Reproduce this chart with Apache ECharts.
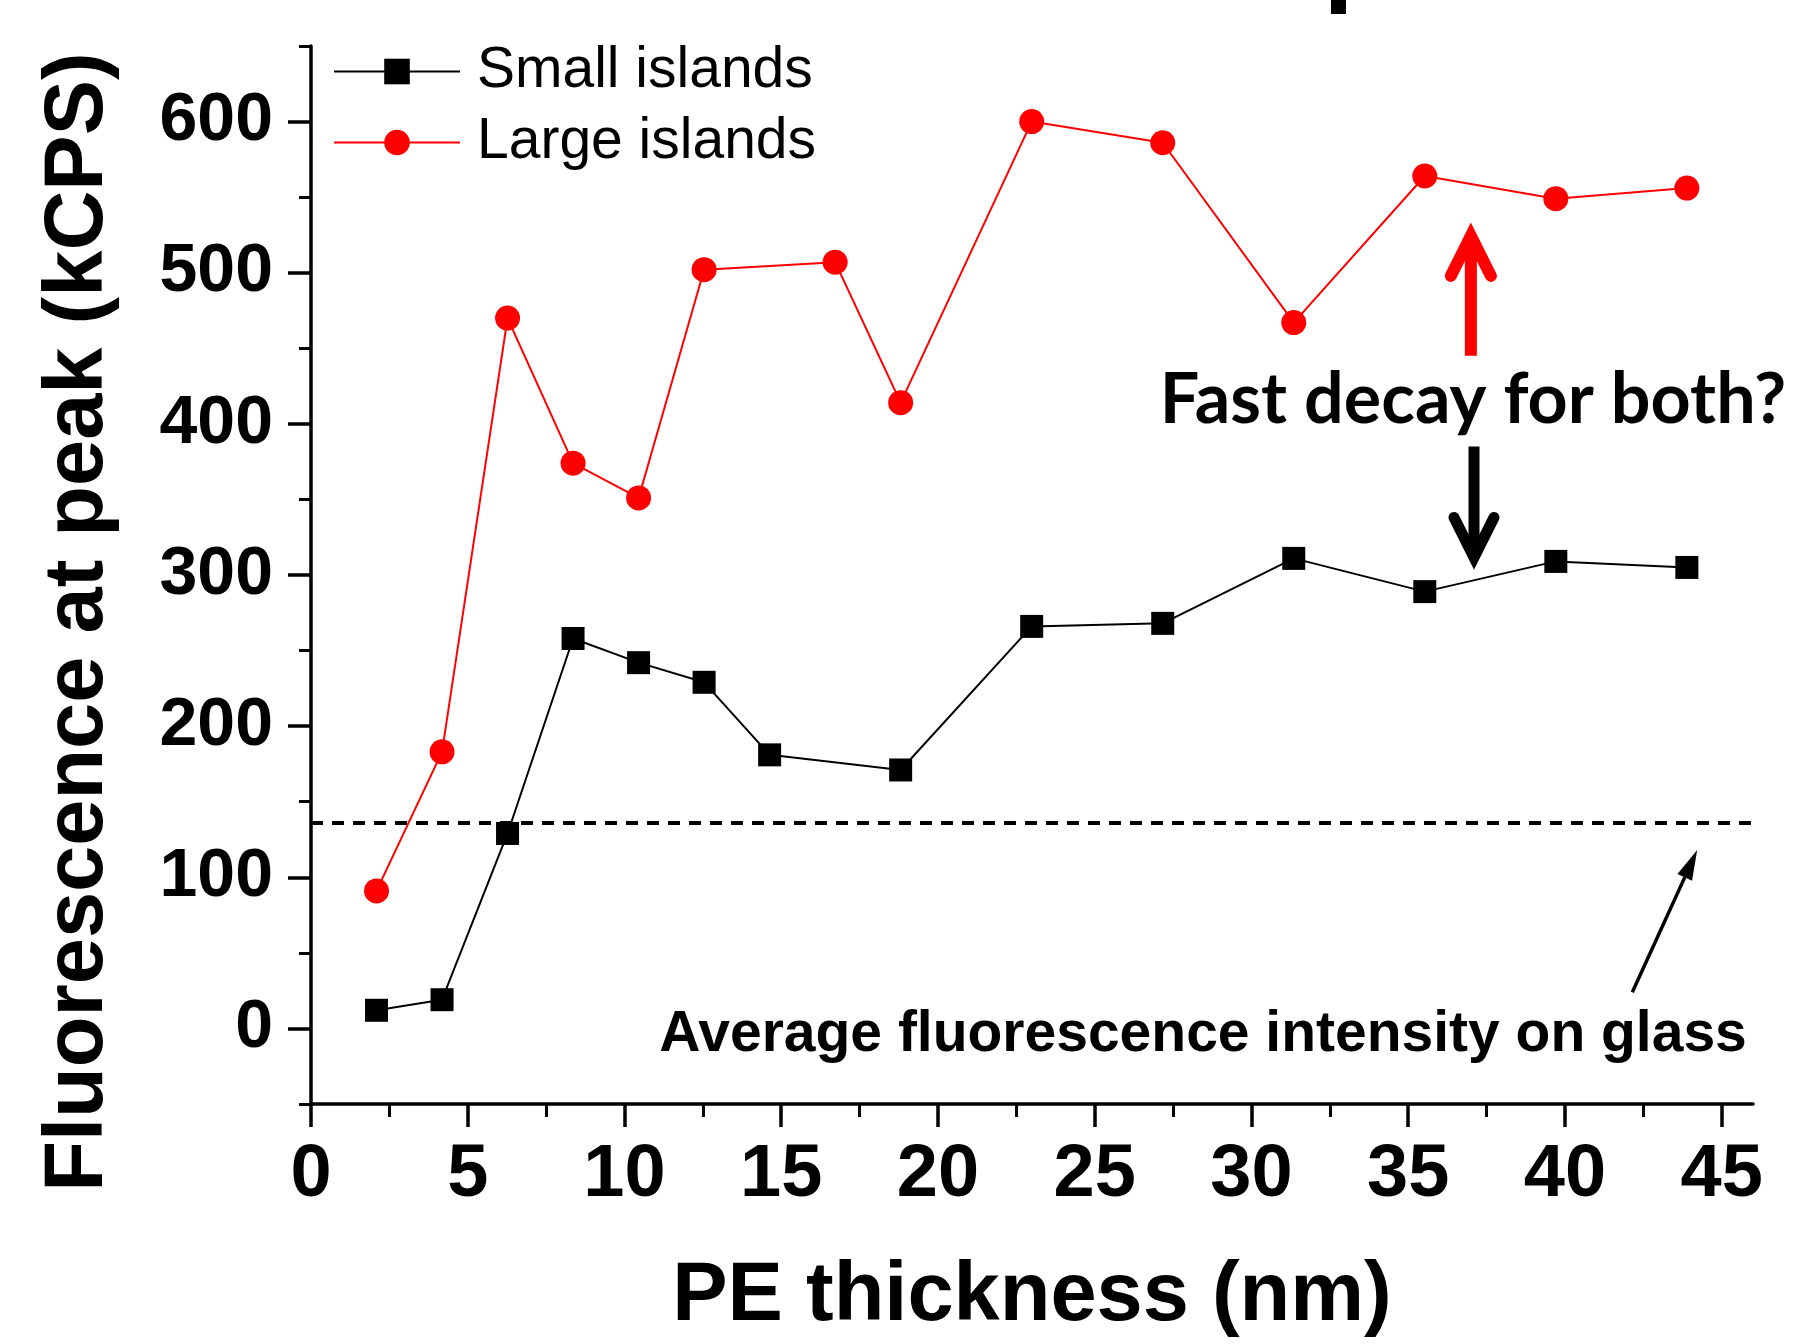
<!DOCTYPE html>
<html><head><meta charset="utf-8">
<script src="https://cdn.jsdelivr.net/npm/echarts@6/dist/echarts.min.js"></script>
<style>html,body{margin:0;padding:0;background:#fff}#c{width:1797px;height:1344px}</style>
</head><body><div id="c"></div>
<script>
// ---- data ----
const xSmall = [2.09, 4.18, 6.27, 8.36, 10.45, 12.54, 14.63, 18.81, 22.99, 27.17, 31.35, 35.53, 39.71, 43.89];
const ySmall = [12, 19, 129, 258, 242, 229, 181, 171, 266, 268, 311, 289, 309, 305];
const xLarge = [2.09, 4.18, 6.27, 8.36, 10.45, 12.54, 16.72, 18.81, 22.99, 27.17, 31.35, 35.53, 39.71, 43.89];
const yLarge = [91, 183, 470, 374, 351, 502, 507, 414, 600, 586, 467, 564, 549, 556];
const glassAverage = 136;
const xMajorTicks = [0, 5, 10, 15, 20, 25, 30, 35, 40, 45];
const xMinorTicks = [2.5, 7.5, 12.5, 17.5, 22.5, 27.5, 32.5, 37.5, 42.5];
const yMajorTicks = [0, 100, 200, 300, 400, 500, 600];
const yMinorTicks = [-50, 50, 150, 250, 350, 450, 550, 650];
const seriesNames = ['Small islands', 'Large islands'];
const xTitle = 'PE thickness (nm)';
const yTitle = 'Fluorescence at peak (kCPS)';
const noteDecay = 'Fast decay for both?';
const noteGlass = 'Average fluorescence intensity on glass';
// annotation anchors in data units
const redArrow = {x: 37.0, tip: 529, tail: 445};
const blackArrow = {x: 37.1, tip: 307, tail: 385};
const glassArrow = {x0: 42.15, y0: 24, x1: 44.22, y1: 118};

const chart = echarts.init(document.getElementById('c'), null, {renderer: 'canvas'});
const F = 'Liberation Sans, Arial, sans-serif';
const axisCommon = {type: 'value', splitLine: {show: false}};

chart.setOption({
  animation: false,
  backgroundColor: '#ffffff',
  grid: {left: 311, right: 44, top: 46, bottom: 240, containLabel: false},
  legend: {
    data: seriesNames, orient: 'vertical', left: 328, top: 38,
    itemWidth: 126, itemHeight: 32, itemGap: 14,
    textStyle: {fontSize: 57, lineHeight: 57, fontFamily: F, color: '#000', padding: [0, 0, 0, 12]}
  },
  xAxis: [
    Object.assign({}, axisCommon, {
      min: 0, max: 46, position: 'bottom',
      name: xTitle, nameLocation: 'middle', nameGap: 152,
      nameTextStyle: {fontSize: 83, fontWeight: 'bold', fontFamily: F, color: '#000'},
      axisLine: {show: true, onZero: false, lineStyle: {color: '#000', width: 3.5}},
      axisTick: {show: true, customValues: xMajorTicks, length: 23, lineStyle: {color: '#000', width: 3.5}},
      axisLabel: {show: true, customValues: xMajorTicks, margin: 35, fontSize: 74, fontWeight: 'bold', fontFamily: F, color: '#000'}
    }),
    Object.assign({}, axisCommon, {
      min: 0, max: 46, position: 'bottom',
      axisLine: {show: false, onZero: false},
      axisTick: {show: true, customValues: xMinorTicks, length: 13, lineStyle: {color: '#000', width: 3}},
      axisLabel: {show: false}
    })
  ],
  yAxis: [
    Object.assign({}, axisCommon, {
      min: -50, max: 650, position: 'left',
      axisLine: {show: true, onZero: false, lineStyle: {color: '#000', width: 3.5}},
      axisTick: {show: true, customValues: yMajorTicks, length: 23, lineStyle: {color: '#000', width: 3.5}},
      axisLabel: {show: true, customValues: yMajorTicks, margin: 38, fontSize: 68, fontWeight: 'bold', fontFamily: F, color: '#000'}
    }),
    Object.assign({}, axisCommon, {
      min: -50, max: 650, position: 'left',
      axisLine: {show: false, onZero: false},
      axisTick: {show: true, customValues: yMinorTicks, length: 12, lineStyle: {color: '#000', width: 3}},
      axisLabel: {show: false}
    })
  ],
  series: [
    {
      name: seriesNames[0], type: 'line', xAxisIndex: 0, yAxisIndex: 0,
      data: xSmall.map((x, i) => [x, ySmall[i]]),
      symbol: 'rect', symbolSize: 23, showAllSymbol: true,
      itemStyle: {color: '#000'}, lineStyle: {color: '#000', width: 2},
      markLine: {
        silent: true, symbol: ['none', 'none'], label: {show: false},
        lineStyle: {color: '#000', width: 4, type: [12, 9]},
        data: [{yAxis: glassAverage}]
      }
    },
    {
      name: seriesNames[1], type: 'line', xAxisIndex: 0, yAxisIndex: 0,
      data: xLarge.map((x, i) => [x, yLarge[i]]),
      symbol: 'circle', symbolSize: 25, showAllSymbol: true,
      itemStyle: {color: '#ff0000'}, lineStyle: {color: '#ff0000', width: 2}
    }
  ]
});

function px(x, y) { return chart.convertToPixel({xAxisIndex: 0, yAxisIndex: 0}, [x, y]); }
function arrowUp(a, color, w) {
  const t = px(a.x, a.tip), b = px(a.x, a.tail);
  const dir = b[1] > t[1] ? 1 : -1;
  const ax = t[0], ay = t[1] + dir * 7;
  return [
    {type: 'line', shape: {x1: ax, y1: ay, x2: b[0], y2: b[1]}, style: {stroke: color, lineWidth: w, lineCap: 'butt'}},
    {type: 'polyline', shape: {points: [[ax - 20, ay + dir * 40], [ax, ay], [ax + 20, ay + dir * 40]]},
     style: {stroke: color, lineWidth: w, lineCap: 'round', lineJoin: 'miter', fill: null}}
  ];
}
const g0 = px(glassArrow.x0, glassArrow.y0), g1 = px(glassArrow.x1, glassArrow.y1);
const ang = Math.atan2(g1[1] - g0[1], g1[0] - g0[0]);
const hl = 30, hw = 8;
const base = [g1[0] - hl * Math.cos(ang), g1[1] - hl * Math.sin(ang)];
const head = [
  g1,
  [base[0] + hw * Math.sin(ang), base[1] - hw * Math.cos(ang)],
  [base[0] - hw * Math.sin(ang), base[1] + hw * Math.cos(ang)]
];

chart.setOption({
  graphic: [].concat(
    arrowUp(redArrow, '#ff0000', 12),
    arrowUp(blackArrow, '#000000', 11),
    [
      {type: 'line', shape: {x1: g0[0], y1: g0[1], x2: base[0], y2: base[1]}, style: {stroke: '#000', lineWidth: 3.5}},
      {type: 'polygon', shape: {points: head}, style: {fill: '#000'}},
      {type: 'text', x: 1473, y: 400, style: {text: noteDecay, fontSize: 70, fontWeight: 'bold', fontFamily: 'Lato, Open Sans, sans-serif', fill: '#000', align: 'center', verticalAlign: 'middle'}},
      {type: 'text', x: 1203, y: 1035, style: {text: noteGlass, fontSize: 57, fontWeight: 'bold', fontFamily: F, fill: '#000', align: 'center', verticalAlign: 'middle'}},
      {type: 'text', x: 79, y: 622, rotation: Math.PI / 2, style: {text: yTitle, fontSize: 83, fontWeight: 'bold', fontFamily: F, fill: '#000', align: 'center', verticalAlign: 'middle'}},
      {type: 'rect', shape: {x: 1331, y: 0, width: 15, height: 14}, style: {fill: '#000'}}
    ]
  )
});
</script>
</body></html>
